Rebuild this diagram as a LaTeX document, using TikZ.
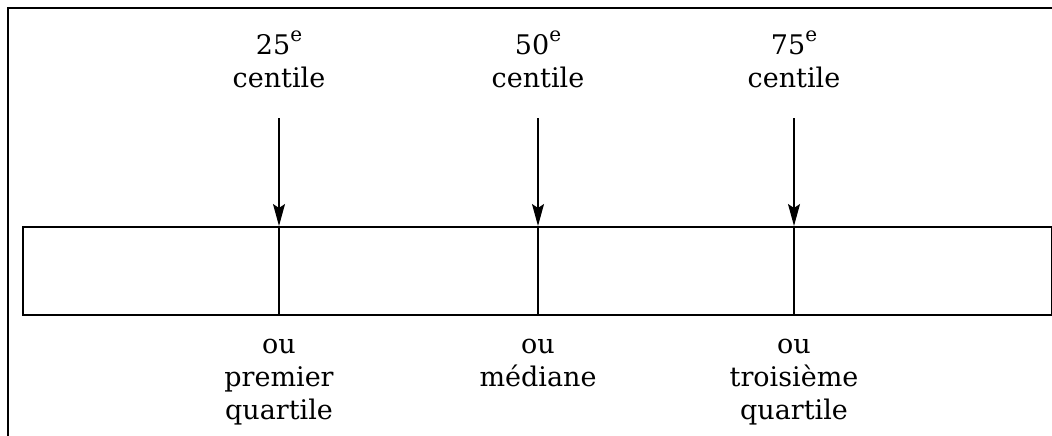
\documentclass[tikz,border=0pt]{standalone}
\usepackage{fontspec}
\setmainfont{DejaVu Serif}
\usetikzlibrary{arrows.meta}
\newcommand{\supe}{\raisebox{13pt}{\fontsize{20}{20}\selectfont e}}
\tikzset{
  lbl/.style={align=center, font=\fontsize{27}{33}\selectfont, inner sep=0pt},
  pointer/.style={line width=1.3pt, -{Stealth[length=22pt, width=12pt, inset=4pt]}},
  divider/.style={line width=1.3pt},
  frameline/.style={line width=2pt},
}
\begin{document}
\begin{tikzpicture}[x=1pt,y=-1pt]
\useasboundingbox (0,0) rectangle (1052,436);
\draw[frameline] (8,436) -- (8,8) -- (1052,8);
\node[draw, line width=1.6pt, minimum width=1029pt, minimum height=88pt, inner sep=0pt, anchor=north west] (bar) at (22,226) {};
\foreach \n/\x/\top/\bot in {a/279/{25\supe\\centile}/{ou\\premier\\quartile}, b/538/{50\supe\\centile}/{ou\\médiane\\\strut}, c/794/{75\supe\\centile}/{ou\\troisième\\quartile}}{
  \node[lbl, anchor=north] (t\n) at (\x,31) {\top};
  \coordinate (s\n) at (\x,118);
  \coordinate (e\n) at (\x,226);
  \coordinate (f\n) at (\x,314);
  \draw[pointer] (s\n) -- (e\n);
  \draw[divider] (e\n) -- (f\n);
  \node[lbl, anchor=north] (u\n) at (\x,339) {\bot};
}
\end{tikzpicture}
\end{document}
